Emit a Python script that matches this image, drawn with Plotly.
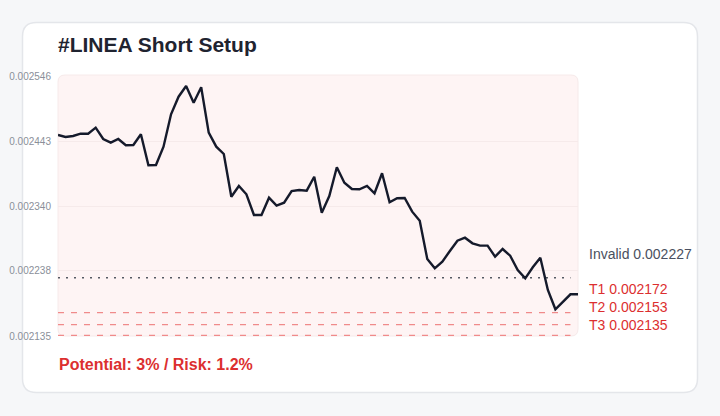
import plotly.graph_objects as go

title = "#LINEA Short Setup"
footer = "Potential: 3% / Risk: 1.2%"

prices = [
    0.0024527, 0.0024496, 0.0024512, 0.0024548, 0.0024548, 0.0024643, 0.0024464, 0.0024406,
    0.0024464, 0.0024365, 0.0024369, 0.0024539, 0.0024048, 0.0024053, 0.0024343, 0.0024855,
    0.0025133, 0.0025302, 0.0025038, 0.0025281, 0.0024564, 0.0024343, 0.0024227, 0.0023552,
    0.0023721, 0.0023590, 0.0023263, 0.0023263, 0.0023536, 0.0023410, 0.0023457, 0.0023642,
    0.0023658, 0.0023647, 0.0023868, 0.0023299, 0.0023563, 0.0024017, 0.0023773, 0.0023674,
    0.0023669, 0.0023721, 0.0023606, 0.0023922, 0.0023464, 0.0023527, 0.0023532, 0.0023315,
    0.0023173, 0.0022567, 0.0022420, 0.0022525, 0.0022694, 0.0022857, 0.0022904, 0.0022815,
    0.0022778, 0.0022778, 0.0022604, 0.0022725, 0.0022619, 0.0022393, 0.0022262, 0.0022436,
    0.0022588, 0.0022077, 0.0021772, 0.0021883, 0.0022009, 0.0022009,
]
x_idx = list(range(len(prices)))

invalid_level = 0.002227
target_names = ["T1", "T2", "T3"]
target_levels = [0.002172, 0.002153, 0.002135]

y_min, y_max = 0.002135, 0.002546
tick_vals = [0.002135, 0.002238, 0.002340, 0.002443, 0.002546]
tick_text = ["0.002135", "0.002238", "0.002340", "0.002443", "0.002546"]

W, H = 720, 416
L, R, T, B = 58, 142, 76, 80
PW, PH = W - L - R, H - T - B

def fx(px):
    return (px - L) / PW

def fy(py):
    return (H - B - py) / PH

def rounded(x0, y0, x1, y1, r):
    pts = [
        f"M {fx(x0 + r)} {fy(y0)}",
        f"L {fx(x1 - r)} {fy(y0)}",
        f"Q {fx(x1)} {fy(y0)} {fx(x1)} {fy(y0 + r)}",
        f"L {fx(x1)} {fy(y1 - r)}",
        f"Q {fx(x1)} {fy(y1)} {fx(x1 - r)} {fy(y1)}",
        f"L {fx(x0 + r)} {fy(y1)}",
        f"Q {fx(x0)} {fy(y1)} {fx(x0)} {fy(y1 - r)}",
        f"L {fx(x0)} {fy(y0 + r)}",
        f"Q {fx(x0)} {fy(y0)} {fx(x0 + r)} {fy(y0)}",
        "Z",
    ]
    return " ".join(pts)

FONT = "Liberation Sans, Arial, sans-serif"
RED = "#dc2f2f"

fig = go.Figure()

line_end = len(prices) - 2
fig.add_trace(go.Scatter(
    x=[0, line_end], y=[invalid_level, invalid_level], mode="lines",
    line=dict(color="#555a63", width=1.5, dash="2px,6px"), hoverinfo="skip"))
for lvl, w in zip(target_levels, [1.3, 1.3, 2.6]):
    fig.add_trace(go.Scatter(
        x=[0, line_end], y=[lvl, lvl], mode="lines",
        line=dict(color="#f08a8a", width=w, dash="6px,7px"), hoverinfo="skip"))

fig.add_trace(go.Scatter(
    x=x_idx, y=prices, mode="lines",
    line=dict(color="#151a2b", width=2.4), hoverinfo="skip"))

shapes = [
    dict(type="path", xref="paper", yref="paper", layer="below",
         path=rounded(22.5, 22.5, 697.5, 392.5, 14),
         fillcolor="#ffffff", line=dict(color="#e4e6ea", width=1.5)),
    dict(type="path", xref="paper", yref="paper", layer="below",
         path=rounded(58, 75, 578, 336, 7),
         fillcolor="#fef4f4", line=dict(color="#f6eaea", width=1)),
]

annotations = [
    dict(text=f"<b>{title}</b>", x=fx(56), y=fy(45), xref="paper", yref="paper",
         xanchor="left", yanchor="middle", showarrow=False,
         font=dict(family=FONT, size=21, color="#1f2330")),
    dict(text=f"<b>{footer}</b>", x=fx(57), y=fy(364), xref="paper", yref="paper",
         xanchor="left", yanchor="middle", showarrow=False,
         font=dict(family=FONT, size=16, color=RED)),
    dict(text=f"Invalid {invalid_level:.6f}", x=fx(587), y=fy(254), xref="paper", yref="paper",
         xanchor="left", yanchor="middle", showarrow=False,
         font=dict(family=FONT, size=14, color="#4a5060")),
]
for name, lvl, py in zip(target_names, target_levels, [289, 307, 325]):
    annotations.append(dict(
        text=f"{name} {lvl:.6f}", x=fx(587), y=fy(py), xref="paper", yref="paper",
        xanchor="left", yanchor="middle", showarrow=False,
        font=dict(family=FONT, size=14, color=RED)))

fig.update_layout(
    width=W, height=H,
    margin=dict(l=L, r=R, t=T, b=B, pad=0, autoexpand=False),
    paper_bgcolor="#f6f7f9",
    plot_bgcolor="rgba(0,0,0,0)",
    showlegend=False,
    shapes=shapes,
    annotations=annotations,
    xaxis=dict(visible=False, range=[0, len(prices) - 1], fixedrange=True, automargin=False),
    yaxis=dict(range=[y_min, y_max], tickvals=tick_vals, ticktext=tick_text,
               showgrid=True, gridcolor="#f6eaea", gridwidth=1, zeroline=False,
               showline=False, ticks="", ticklabelstandoff=6, automargin=False,
               tickfont=dict(family=FONT, size=10, color="#8a8f99"), fixedrange=True),
)

fig.write_html("out.html", config={"displayModeBar": False})
